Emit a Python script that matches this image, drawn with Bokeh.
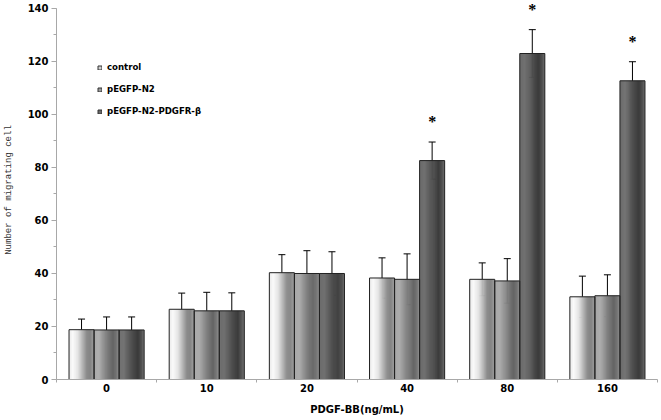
import numpy as np
from bokeh.plotting import figure
from bokeh.models import (ColumnDataSource, Range1d, FixedTicker, SingleIntervalTicker,
                          Whisker, TeeHead, LabelSet, Legend, LegendItem)
from bokeh.embed import file_html
from bokeh.resources import INLINE

# ---- data ----
doses = ["0", "10", "20", "40", "80", "160"]
series_names = ["control", "pEGFP-N2", "pEGFP-N2-PDGFR-β"]
control = [18.8, 26.5, 40.3, 38.3, 37.8, 31.2]
control_err = [4.0, 6.1, 6.8, 7.6, 6.2, 7.8]
egfp_n2 = [18.7, 25.9, 40.0, 37.8, 37.2, 31.6]
egfp_n2_err = [4.9, 7.0, 8.6, 9.6, 8.4, 7.9]
pdgfr = [18.7, 25.9, 40.0, 82.6, 123.0, 112.7]
pdgfr_err = [4.9, 6.8, 8.2, 7.0, 9.0, 7.2]
pdgfr_significant = [False, False, False, True, True, True]
y_axis_max = 140

values = [control, egfp_n2, pdgfr]
errors = [control_err, egfp_n2_err, pdgfr_err]

# ---- styling ----
bar_w = 0.25
offsets = [-bar_w, 0.0, bar_w]
gradient_stops = [
    ([0, 0.15, 0.35, 0.7, 0.85, 1.0], [232, 250, 228, 140, 132, 160]),
    ([0, 0.2, 0.5, 0.75, 0.9, 1.0], [168, 172, 128, 100, 118, 148]),
    ([0, 0.2, 0.5, 0.75, 0.9, 1.0], [108, 112, 80, 58, 82, 112]),
]
legend_colors = ["#cfcfcf", "#9c9c9c", "#6a6a6a"]
n_strips = 24
font = "DejaVu Sans"
star_gap = 5.6

p = figure(width=661, height=420, x_range=Range1d(0, len(doses)),
           y_range=Range1d(0, 143), output_backend="svg", toolbar_location=None,
           min_border_left=53, min_border_right=4, min_border_top=0,
           min_border_bottom=41)
p.outline_line_color = None
p.xgrid.visible = False
p.ygrid.visible = False
p.background_fill_color = "white"

# gradient bars built from strips
strip_l, strip_r, strip_t, strip_c = [], [], [], []
for s in range(3):
    xs_stop, vs_stop = gradient_stops[s]
    for i, v in enumerate(values[s]):
        c = i + 0.5 + offsets[s]
        left0 = c - bar_w / 2
        for j in range(n_strips):
            l = left0 + j * bar_w / n_strips
            r = min(l + bar_w / n_strips * 1.6, c + bar_w / 2)
            g = int(round(np.interp((j + 0.5) / n_strips, xs_stop, vs_stop)))
            strip_l.append(l)
            strip_r.append(r)
            strip_t.append(v)
            strip_c.append("#%02x%02x%02x" % (g, g, g))
p.quad(left=strip_l, right=strip_r, top=strip_t, bottom=0, fill_color=strip_c,
       line_color=None)

# outlines
bx, bt = [], []
for s in range(3):
    for i, v in enumerate(values[s]):
        bx.append(i + 0.5 + offsets[s])
        bt.append(v)
p.vbar(x=bx, top=bt, width=bar_w, bottom=0, fill_alpha=0, line_color="#222222",
       line_width=1)

# error bars
ex, eu, el = [], [], []
for s in range(3):
    for i, v in enumerate(values[s]):
        ex.append(i + 0.5 + offsets[s])
        eu.append(v + errors[s][i])
        el.append(v - errors[s][i])
esrc = ColumnDataSource(dict(x=ex, upper=eu, lower=el))
p.add_layout(Whisker(source=esrc, base="x", upper="upper", lower="lower",
                     line_color="black", line_width=1,
                     upper_head=TeeHead(size=7, line_color="black", line_width=1),
                     lower_head=TeeHead(size=7, line_color="black", line_width=1)))

# significance asterisks
sx, sy, st = [], [], []
for i, sig in enumerate(pdgfr_significant):
    if sig:
        sx.append(i + 0.5 + offsets[2])
        sy.append(pdgfr[i] + pdgfr_err[i] + star_gap)
        st.append("*")
ssrc = ColumnDataSource(dict(x=sx, y=sy, t=st))
p.add_layout(LabelSet(x="x", y="y", text="t", source=ssrc, text_font=font,
                      text_font_size="16px", text_font_style="bold",
                      text_align="center", text_baseline="alphabetic",
                      text_color="black"))

# legend; each key renderer sits on the bottom edge of the series' first bar
items = []
for s in range(3):
    r = p.vbar(x=[0.5 + offsets[s]], top=[0], bottom=0, width=bar_w,
               fill_color=legend_colors[s], line_color="#333333", line_width=1)
    items.append(LegendItem(label=series_names[s], renderers=[r]))
legend = Legend(items=items, location=(41, 260), padding=0, margin=0,
                spacing=6, label_height=16, glyph_width=5, glyph_height=5,
                label_standoff=5, border_line_alpha=0, background_fill_alpha=0,
                label_text_font=font, label_text_font_size="8.6px",
                label_text_font_style="bold", label_text_color="black")
p.add_layout(legend)

# axes
ya = p.yaxis[0]
ya.ticker = SingleIntervalTicker(interval=20, num_minor_ticks=2)
ya.bounds = (0, y_axis_max)
ya.axis_line_color = "#a8a8a8"
ya.major_tick_line_color = "#a8a8a8"
ya.minor_tick_line_color = "#a8a8a8"
ya.major_tick_out = 5
ya.major_tick_in = 0
ya.minor_tick_out = 3
ya.minor_tick_in = 0
ya.major_label_standoff = 3
ya.major_label_text_font = font
ya.major_label_text_font_size = "10px"
ya.major_label_text_font_style = "bold"
ya.major_label_text_color = "black"
ya.axis_label = "Number of migrating cell"
ya.axis_label_text_font = "Liberation Mono"
ya.axis_label_text_font_size = "9px"
ya.axis_label_text_font_style = "normal"
ya.axis_label_text_color = "#333333"
ya.axis_label_standoff = 11

xa = p.xaxis[0]
centers = [i + 0.5 for i in range(len(doses))]
xa.ticker = FixedTicker(ticks=centers, minor_ticks=list(range(len(doses) + 1)))
xa.major_label_overrides = {c: d for c, d in zip(centers, doses)}
xa.axis_line_color = "#a8a8a8"
xa.major_tick_line_color = None
xa.major_tick_out = 0
xa.major_tick_in = 0
xa.minor_tick_line_color = "#a8a8a8"
xa.minor_tick_out = 3
xa.minor_tick_in = 0
xa.major_label_standoff = 1
xa.major_label_text_font = font
xa.major_label_text_font_size = "10px"
xa.major_label_text_font_style = "bold"
xa.major_label_text_color = "black"
xa.axis_label = "PDGF-BB(ng/mL)"
xa.axis_label_text_font = font
xa.axis_label_text_font_size = "10px"
xa.axis_label_text_font_style = "bold"
xa.axis_label_text_color = "black"
xa.axis_label_standoff = 9

open("out.html", "w").write(file_html(p, INLINE))
